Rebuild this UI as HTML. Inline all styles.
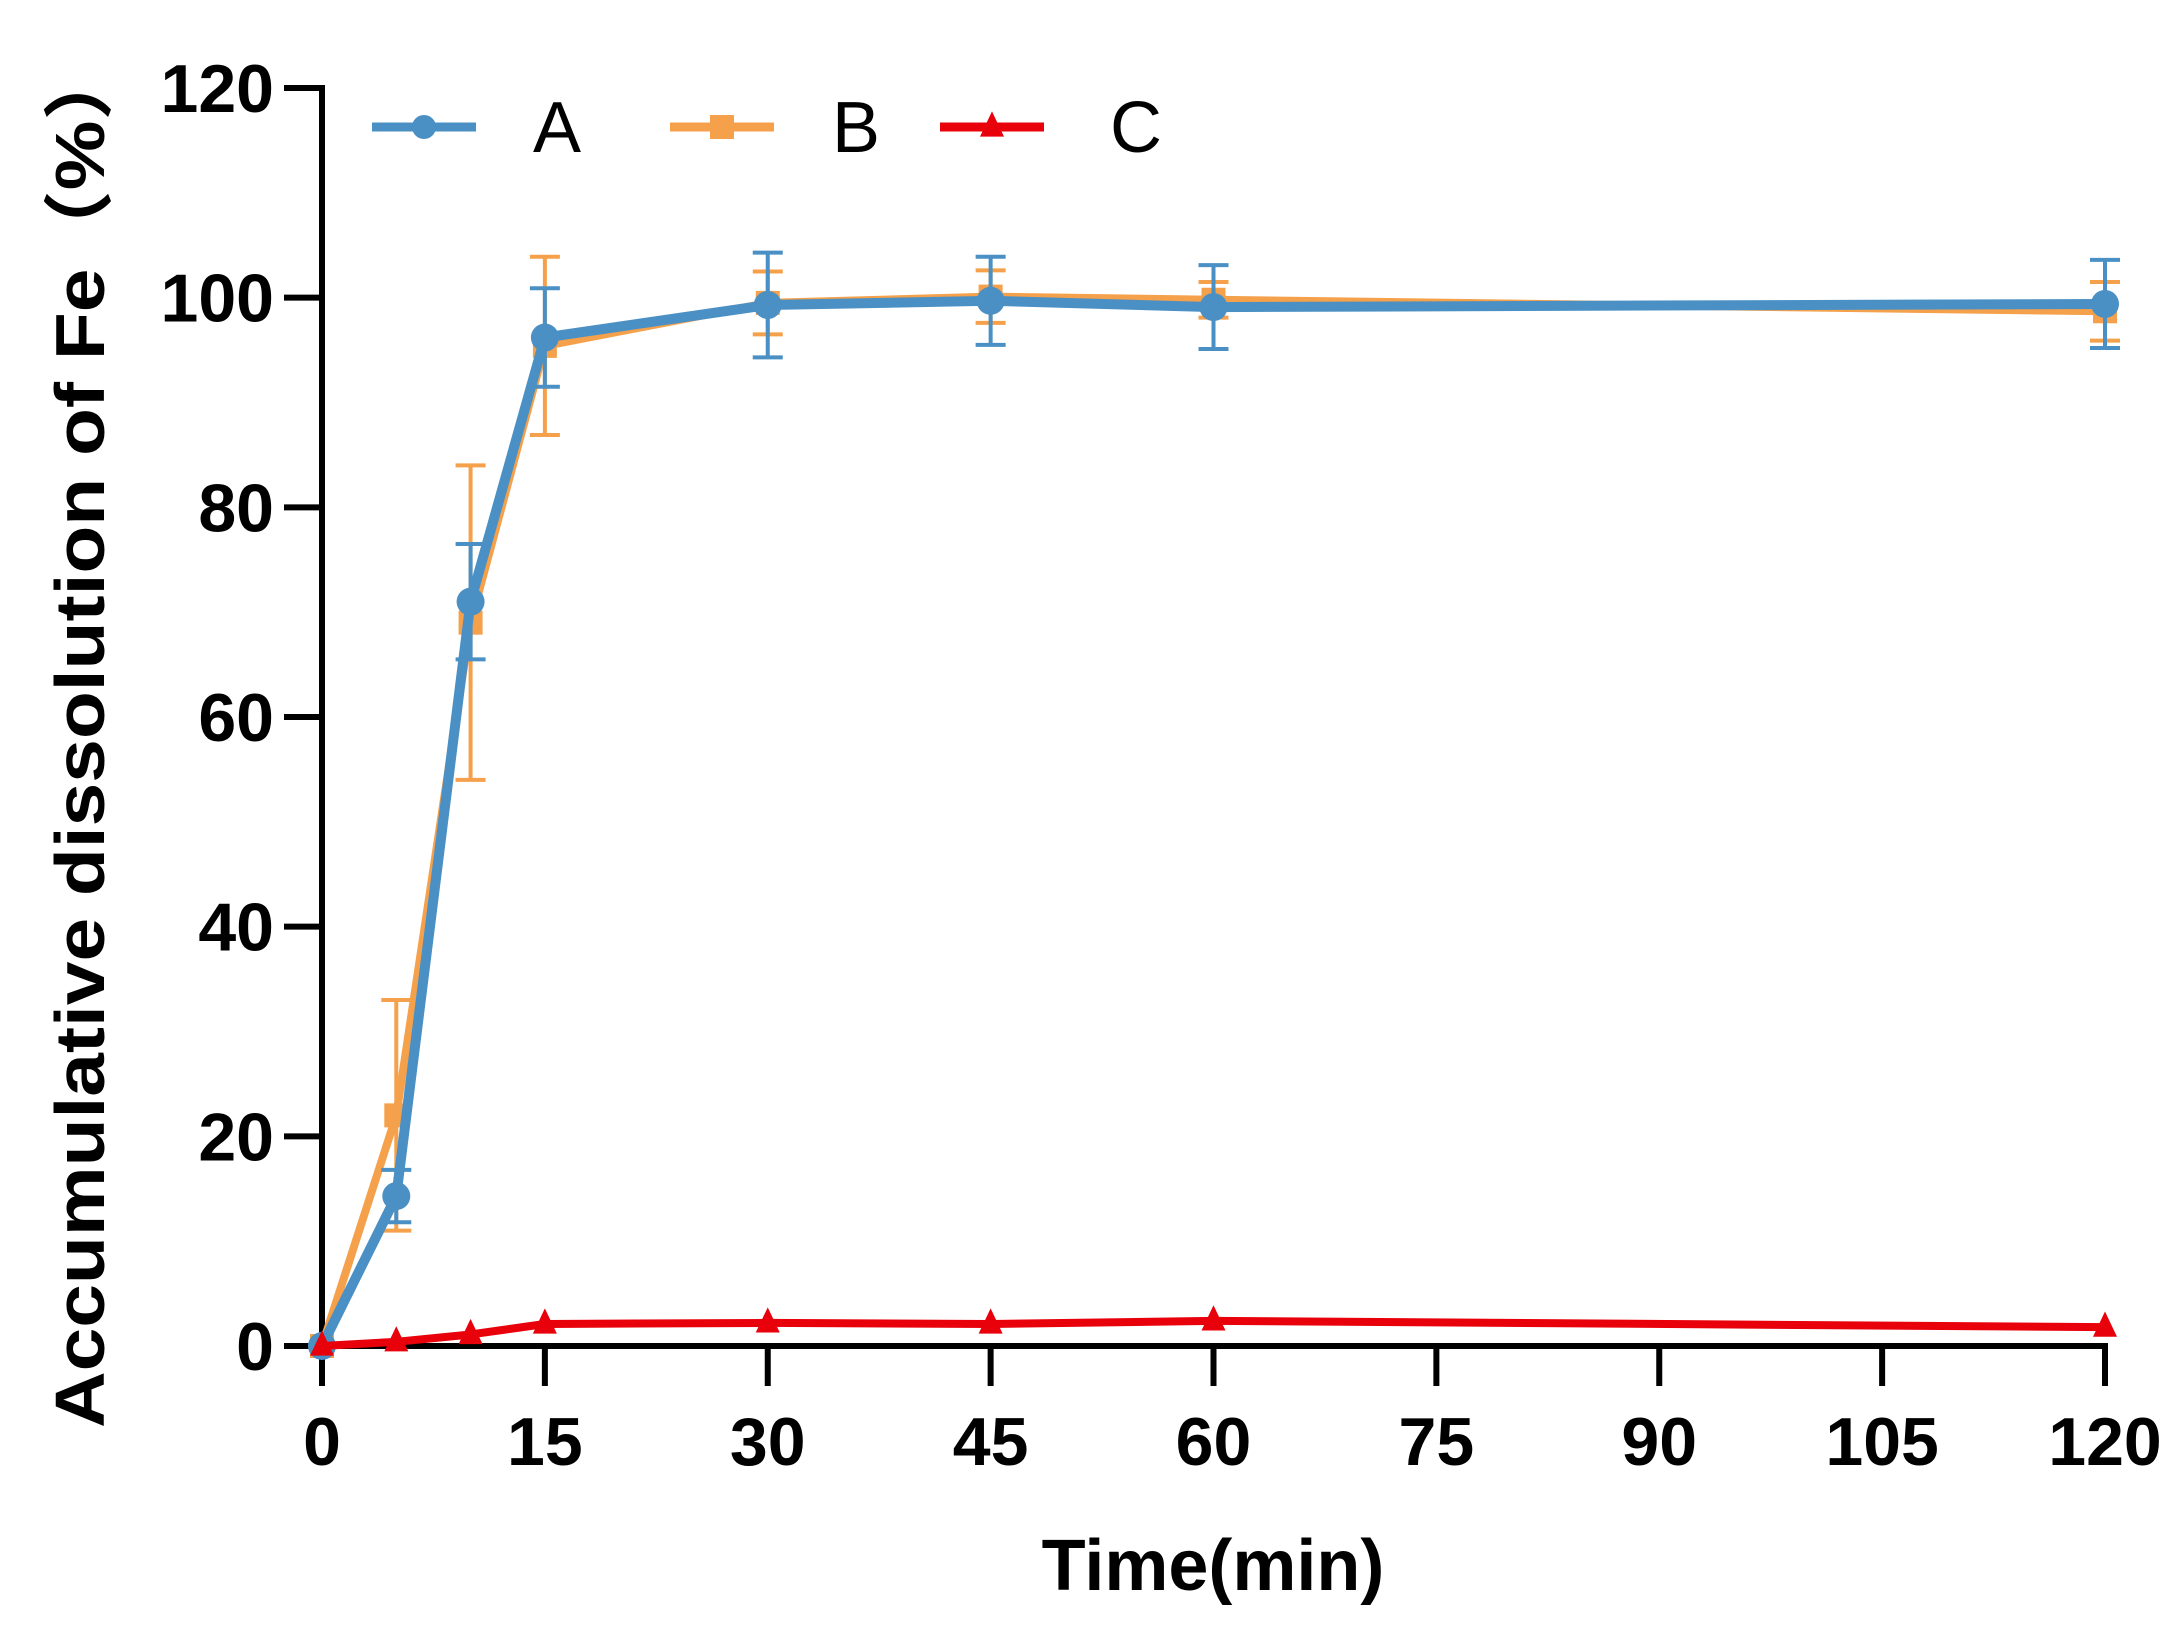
<!DOCTYPE html>
<html><head><meta charset="utf-8"><style>
html,body{margin:0;padding:0;background:#fff}
svg{display:block}
text{font-family:"Liberation Sans","Noto Sans CJK SC",sans-serif}
</style></head><body>
<svg id="chart" width="2183" height="1633" viewBox="0 0 2183 1633" xmlns="http://www.w3.org/2000/svg">
<g id="axes"></g><g id="plot"></g><g id="legend"></g>
</svg>
<script>
const times=[0,5,10,15,30,45,60,120];
const seriesA=[0,14.3,71,96.2,99.3,99.7,99.1,99.4];
const errA=[0,2.5,5.5,4.7,5,4.2,4,4.2];
const seriesB=[0,22,69,95.4,99.5,100.1,99.8,98.7];
const errB=[0,11,15,8.5,3,2.5,1.7,2.8];
const seriesC=[0,0.4,1.1,2.1,2.2,2.1,2.4,1.8];
const xTicks=[0,15,30,45,60,75,90,105,120];
const yTicks=[0,20,40,60,80,100,120];
const NS="http://www.w3.org/2000/svg";
const X0=322,X1=2105,Y0=1346,Y1=88;
const xs=v=>X0+(X1-X0)*v/120;
const ys=v=>Y0+(Y1-Y0)*v/120;
function mk(tag,attrs,parent){const e=document.createElementNS(NS,tag);for(const k in attrs)e.setAttribute(k,attrs[k]);parent.appendChild(e);return e;}
const axes=document.getElementById('axes'),plot=document.getElementById('plot'),legend=document.getElementById('legend');
let yl=mk('line',{x1:X0,y1:Y1-3,x2:X0,y2:Y0+3,stroke:'#000','stroke-width':6},axes);


let xl=mk('line',{x1:X0-3,y1:Y0,x2:X1+3,y2:Y0,stroke:'#000','stroke-width':6},axes);


yTicks.forEach(v=>{
 mk('line',{x1:X0-38,y1:ys(v),x2:X0,y2:ys(v),stroke:'#000','stroke-width':6},axes);
 const t=mk('text',{x:X0-48,y:ys(v)+24,'text-anchor':'end','font-size':68,'font-weight':'bold'},axes);
 t.textContent=v;
 
 
});
xTicks.forEach(v=>{
 mk('line',{x1:xs(v),y1:Y0,x2:xs(v),y2:Y0+40,stroke:'#000','stroke-width':6},axes);
 const t=mk('text',{x:xs(v),y:1465,'text-anchor':'middle','font-size':68,'font-weight':'bold'},axes);
 t.textContent=v;
 
 
});
let xt=mk('text',{x:1213,y:1590,'text-anchor':'middle','font-size':72,'font-weight':'bold'},axes);
xt.textContent='Time(min)';


let yt=mk('text',{x:0,y:0,'text-anchor':'middle','font-size':70,'font-weight':'bold',textLength:1386,lengthAdjust:'spacingAndGlyphs',transform:'translate(104,735) rotate(-90)'},axes);
yt.textContent='Accumulative dissolution of Fe（%）';


function marker(type,x,y,color,parent,r){
 if(type==='circle')return mk('circle',{cx:x,cy:y,r:r,fill:color},parent);
 if(type==='square')return mk('rect',{x:x-r,y:y-r,width:2*r,height:2*r,fill:color},parent);
 return mk('polygon',{points:`${x},${y-r*1.3} ${x-r},${y+r*0.8} ${x+r},${y+r*0.8}`,fill:color},parent);
}
function drawSeries(vals,errs,color,type,name,r,w){
 const g=mk('g',{},plot);
 
 
 if(errs){times.forEach((t,i)=>{if(!errs[i])return;const x=xs(t),a=ys(vals[i]+errs[i]),b=ys(vals[i]-errs[i]);
  mk('line',{x1:x,y1:a,x2:x,y2:b,stroke:color,'stroke-width':4},g);
  mk('line',{x1:x-15,y1:a,x2:x+15,y2:a,stroke:color,'stroke-width':4},g);
  mk('line',{x1:x-15,y1:b,x2:x+15,y2:b,stroke:color,'stroke-width':4},g);});}
 mk('polyline',{points:times.map((t,i)=>xs(t)+','+ys(vals[i])).join(' '),fill:'none',stroke:color,'stroke-width':w,'stroke-linejoin':'round'},g);
 times.forEach((t,i)=>{const m=marker(type,xs(t),ys(vals[i]),color,g,r);
  
  });
}
drawSeries(seriesB,errB,'#f5a04a','square','series-b',12,8);
drawSeries(seriesA,errA,'#4a90c4','circle','series-a',14,10);
drawSeries(seriesC,null,'#e8000b','triangle','series-c',12,8);
const leg=[['A','#4a90c4','circle',372,533],['B','#f5a04a','square',670,832],['C','#e8000b','triangle',940,1110]];
leg.forEach(([lab,c,ty,lx,tx])=>{
 const g=mk('g',{},legend);
 
 
 mk('line',{x1:lx,y1:127,x2:lx+104,y2:127,stroke:c,'stroke-width':9},g);
 marker(ty,lx+52,127,c,g,12);
 const t=mk('text',{x:tx,y:152,'font-size':72},g);t.textContent=lab;
});
</script>
</body></html>
